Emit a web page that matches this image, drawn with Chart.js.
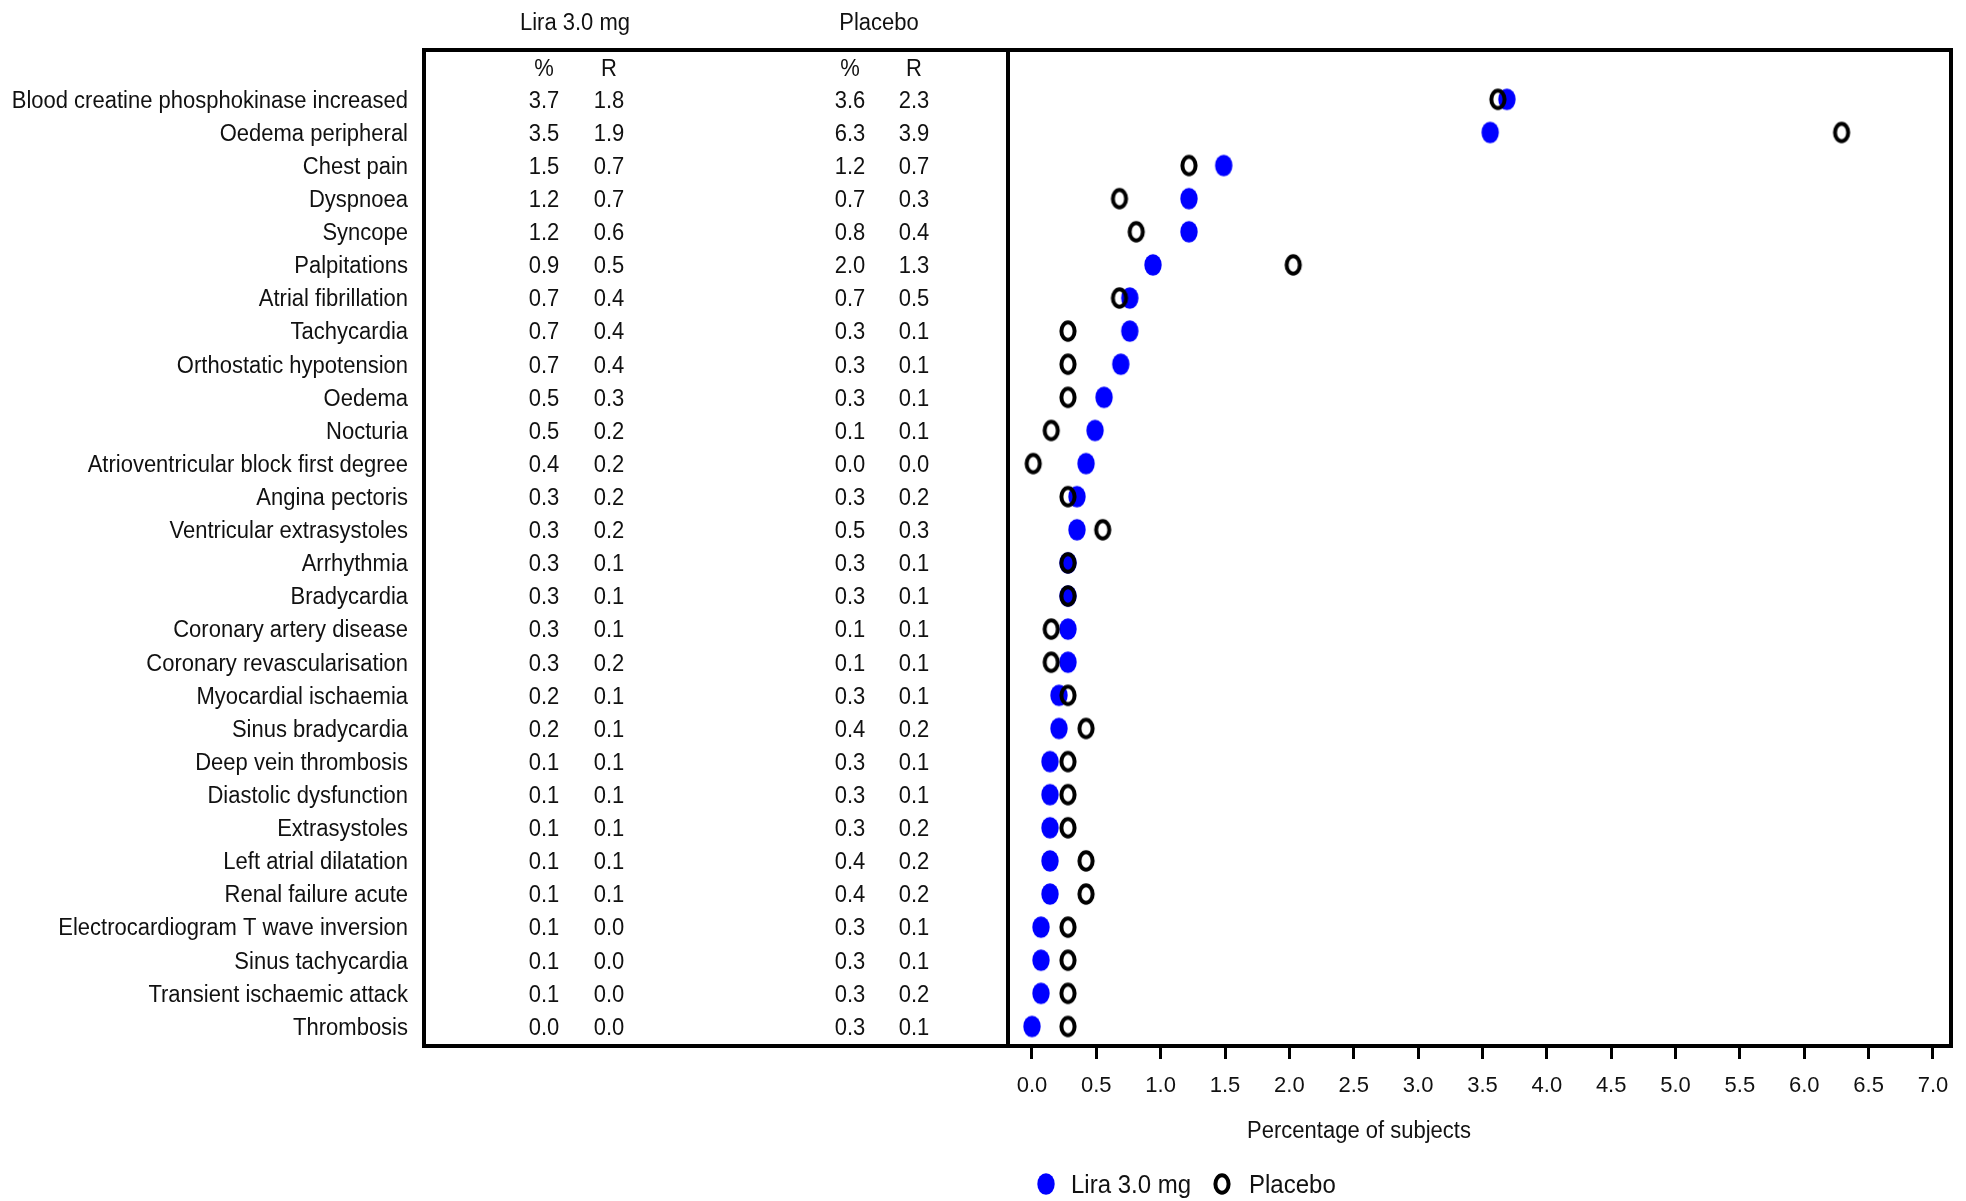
<!DOCTYPE html>
<html lang="en">
<head>
<meta charset="UTF-8">
<title>Cardiac adverse events - Lira 3.0 mg vs Placebo</title>
<script src="https://cdn.jsdelivr.net/npm/chart.js"></script>
<style>
  html, body { margin: 0; padding: 0; background: #fff; }
  #wrap { width: 1966px; height: 1201px; }
</style>
</head>
<body>
<div id="wrap"><canvas id="aeChart" width="1966" height="1201"></canvas></div>
<script>
// Adverse event terms, top to bottom
const categories = [
  'Blood creatine phosphokinase increased', 'Oedema peripheral', 'Chest pain', 'Dyspnoea',
  'Syncope', 'Palpitations', 'Atrial fibrillation', 'Tachycardia', 'Orthostatic hypotension',
  'Oedema', 'Nocturia', 'Atrioventricular block first degree', 'Angina pectoris',
  'Ventricular extrasystoles', 'Arrhythmia', 'Bradycardia', 'Coronary artery disease',
  'Coronary revascularisation', 'Myocardial ischaemia', 'Sinus bradycardia',
  'Deep vein thrombosis', 'Diastolic dysfunction', 'Extrasystoles', 'Left atrial dilatation',
  'Renal failure acute', 'Electrocardiogram T wave inversion', 'Sinus tachycardia',
  'Transient ischaemic attack', 'Thrombosis'
];

// table columns (% of subjects, R = rate)
const liraPct = [3.7, 3.5, 1.5, 1.2, 1.2, 0.9, 0.7, 0.7, 0.7, 0.5, 0.5, 0.4, 0.3, 0.3, 0.3, 0.3, 0.3, 0.3, 0.2, 0.2, 0.1, 0.1, 0.1, 0.1, 0.1, 0.1, 0.1, 0.1, 0.0];
const liraR   = [1.8, 1.9, 0.7, 0.7, 0.6, 0.5, 0.4, 0.4, 0.4, 0.3, 0.2, 0.2, 0.2, 0.2, 0.1, 0.1, 0.1, 0.2, 0.1, 0.1, 0.1, 0.1, 0.1, 0.1, 0.1, 0.0, 0.0, 0.0, 0.0];
const placPct = [3.6, 6.3, 1.2, 0.7, 0.8, 2.0, 0.7, 0.3, 0.3, 0.3, 0.1, 0.0, 0.3, 0.5, 0.3, 0.3, 0.1, 0.1, 0.3, 0.4, 0.3, 0.3, 0.3, 0.4, 0.4, 0.3, 0.3, 0.3, 0.3];
const placR   = [2.3, 3.9, 0.7, 0.3, 0.4, 1.3, 0.5, 0.1, 0.1, 0.1, 0.1, 0.0, 0.2, 0.3, 0.1, 0.1, 0.1, 0.1, 0.1, 0.2, 0.1, 0.1, 0.2, 0.2, 0.2, 0.1, 0.1, 0.2, 0.1];

// plotted percentages (unrounded)
const liraPlot = [3.69, 3.56, 1.49, 1.22, 1.22, 0.94, 0.76, 0.76, 0.69, 0.56, 0.49, 0.42, 0.35, 0.35, 0.28, 0.28, 0.28, 0.28, 0.21, 0.21, 0.14, 0.14, 0.14, 0.14, 0.14, 0.07, 0.07, 0.07, 0.0];
const placPlot = [3.62, 6.29, 1.22, 0.68, 0.81, 2.03, 0.68, 0.28, 0.28, 0.28, 0.15, 0.01, 0.28, 0.55, 0.28, 0.28, 0.15, 0.15, 0.28, 0.42, 0.28, 0.28, 0.28, 0.42, 0.42, 0.28, 0.28, 0.28, 0.28];

const xTickValues = [0, 0.5, 1, 1.5, 2, 2.5, 3, 3.5, 4, 4.5, 5, 5.5, 6, 6.5, 7];

const FAMILY = '"Liberation Sans", Arial, sans-serif';
const TEXT = '#111';

// marker images: filled blue ellipse, black ring
function makeMark(filled) {
  const c = document.createElement('canvas');
  c.width = 22; c.height = 26;
  const g = c.getContext('2d');
  g.beginPath();
  if (filled) {
    g.ellipse(11, 13, 8.7, 10.8, 0, 0, Math.PI * 2);
    g.fillStyle = '#0000ff';
    g.fill();
  } else {
    g.ellipse(11, 13, 6.6, 8.7, 0, 0, Math.PI * 2);
    g.lineWidth = 4;
    g.strokeStyle = '#000';
    g.stroke();
  }
  return c;
}
const liraMark = makeMark(true);
const placMark = makeMark(false);

// text a bit taller than wide, like the original output; cy = middle of caps
function label(ctx, t, x, cy, align, size) {
  ctx.save();
  ctx.font = size + 'px ' + FAMILY;
  ctx.textAlign = align;
  ctx.textBaseline = 'alphabetic';
  ctx.translate(x, cy);
  ctx.scale(1, 1.06);
  ctx.fillText(t, 0, size * 0.358);
  ctx.restore();
}

// text table, frame, axis title and legend
const tablePlugin = {
  id: 'tableAndFrame',
  afterDraw(chart) {
    const { ctx, chartArea: a, scales: { y } } = chart;
    const colX = [544, 609, 850, 914];
    ctx.save();
    ctx.fillStyle = TEXT;

    label(ctx, 'Lira 3.0 mg', 575, 21.5, 'center', 22);
    label(ctx, 'Placebo', 879, 21.5, 'center', 22);
    const hy = y.getPixelForValue(-0.95);
    ['%', 'R', '%', 'R'].forEach((t, k) => label(ctx, t, colX[k], hy, 'center', 22));

    categories.forEach((c, i) => {
      const py = y.getPixelForValue(i);
      label(ctx, c, 408, py, 'right', 22);
      [liraPct, liraR, placPct, placR].forEach((arr, k) => label(ctx, arr[i].toFixed(1), colX[k], py, 'center', 22));
    });

    // frame
    ctx.strokeStyle = '#000';
    ctx.lineWidth = 4;
    ctx.strokeRect(424, a.top, a.right - 424, a.bottom - a.top);
    ctx.beginPath();
    ctx.moveTo(a.left, a.top);
    ctx.lineTo(a.left, a.bottom);
    ctx.stroke();

    // axis title
    label(ctx, 'Percentage of subjects', 1359, 1130, 'center', 22);

    // legend
    const ly = 1184;
    ctx.drawImage(liraMark, 1046 - liraMark.width / 2, ly - liraMark.height / 2);
    ctx.drawImage(placMark, 1222 - placMark.width / 2, ly - placMark.height / 2);
    label(ctx, 'Lira 3.0 mg', 1071, ly, 'left', 24);
    label(ctx, 'Placebo', 1249, ly, 'left', 24);
    ctx.restore();
  }
};

new Chart(document.getElementById('aeChart'), {
  type: 'scatter',
  data: {
    datasets: [
      { label: 'Lira 3.0 mg', data: liraPlot.map((v, i) => ({ x: v, y: i })), pointStyle: liraMark, pointRadius: 9, order: 2 },
      { label: 'Placebo', data: placPlot.map((v, i) => ({ x: v, y: i })), pointStyle: placMark, pointRadius: 9, order: 1 }
    ]
  },
  options: {
    responsive: false,
    animation: false,
    layout: { padding: { left: 1008, right: 15, top: 50, bottom: 0 } },
    plugins: { legend: { display: false }, tooltip: { enabled: false } },
    scales: {
      x: {
        type: 'linear',
        min: -0.186,
        max: 7.14,
        afterBuildTicks: s => { s.ticks = xTickValues.map(v => ({ value: v })); },
        afterFit: s => { s.height = 155; },
        border: { display: false },
        grid: { drawOnChartArea: false, drawTicks: true, tickLength: 13, lineWidth: 3, color: '#000' },
        ticks: {
          padding: 14,
          color: TEXT,
          font: { family: FAMILY, size: 22 },
          maxRotation: 0,
          autoSkip: false,
          callback: v => Number(v).toFixed(1)
        }
      },
      y: { type: 'linear', display: false, reverse: true, min: -1.49, max: 28.59 }
    }
  },
  plugins: [tablePlugin]
});
</script>
</body>
</html>
